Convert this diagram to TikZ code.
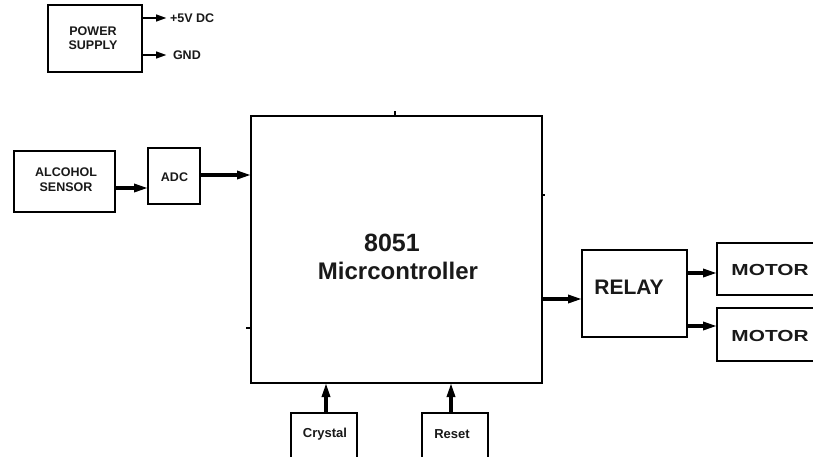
\documentclass[tikz,border=0pt]{standalone}
\usepackage{fontspec}
\setmainfont{Liberation Sans}
\usepackage{graphicx}
\usetikzlibrary{arrows.meta,calc}
\begin{document}
\begin{tikzpicture}[x=1pt,y=-1pt,
  blk/.style={draw=black,line width=1.6pt,inner sep=0pt,outer sep=0pt,fill=white},
  txt/.style={inner sep=0pt,outer sep=0pt,text=black!90,align=center},
  arr/.style={line width=3.2pt,-{Triangle[length=14pt,width=8pt]}},
  arrs/.style={line width=2.6pt,-{Triangle[length=11pt,width=6.5pt]}},
  tick/.style={line width=1.4pt}
]
\useasboundingbox (0,0) rectangle (813,456);
\clip (0,0) rectangle (813,456);
\fill[white] (0,0) rectangle (813,456);

% power supply
\node[blk,minimum width=94pt,minimum height=67pt] (ps) at (95,38.5) {};
\node[txt,font=\bfseries\fontsize{12.5}{14}\selectfont] (pst) at (93,38.5) {POWER\\SUPPLY};
\coordinate (v5) at (167,18);
\coordinate (gnd) at (167,55);
\draw[arrs] ([yshift=20.5pt]ps.east) -- (v5);
\draw[arrs] ([yshift=-16.5pt]ps.east) -- (gnd);
\node[txt,anchor=west,font=\bfseries\fontsize{12.5}{14}\selectfont] (v5t) at (170,18) {+5V DC};
\node[txt,anchor=west,font=\bfseries\fontsize{12.5}{14}\selectfont] (gndt) at (173,55.5) {GND};

% sensor and ADC
\node[blk,minimum width=101pt,minimum height=61pt] (sen) at (64.5,181.5) {};
\node[txt,font=\bfseries\fontsize{12.5}{15}\selectfont] (sent) at (66,180) {ALCOHOL\\SENSOR};
\node[blk,minimum width=52pt,minimum height=56pt] (adc) at (174,176) {};
\node[txt,font=\bfseries\fontsize{12.5}{14}\selectfont] (adct) at (174.5,177) {ADC};

% microcontroller
\node[blk,minimum width=291pt,minimum height=267pt] (mcu) at (396.5,249.5) {};
\node[txt,font=\bfseries\fontsize{25}{26}\selectfont] (mcut1) at (392,243) {8051};
\node[txt,font=\bfseries\fontsize{24}{26}\selectfont] (mcut2) at (398,271) {Micrcontroller};
\draw[tick] (395,111) -- (395,116);
\draw[tick] (541,195) -- (545,195);
\draw[tick] (246,328) -- (251,328);

% relay and motors
\node[blk,minimum width=105pt,minimum height=87pt] (rel) at (634.5,293.5) {};
\node[txt,font=\bfseries\fontsize{21}{24}\selectfont] (relt) at (629,287) {RELAY};
\node[blk,minimum width=106pt,minimum height=52pt] (m1) at (770,269) {};
\node[txt,font=\bfseries\fontsize{16}{18}\selectfont] (m1t) at (770,270) {\scalebox{1.3}[1]{MOTOR}};
\node[blk,minimum width=106pt,minimum height=53pt] (m2) at (770,334.5) {};
\node[txt,font=\bfseries\fontsize{16}{18}\selectfont] (m2t) at (770,336) {\scalebox{1.3}[1]{MOTOR}};

% crystal and reset
\node[blk,minimum width=66pt,minimum height=46pt] (cry) at (324,436) {};
\node[txt,font=\bfseries\fontsize{13}{15}\selectfont] (cryt) at (325,434) {Crystal};
\node[blk,minimum width=66pt,minimum height=46pt] (rst) at (455,436) {};
\node[txt,font=\bfseries\fontsize{13}{15}\selectfont] (rstt) at (452,434) {Reset};

% connectors
\draw[arr] ([yshift=-6.5pt]sen.east) -- ([yshift=-6.5pt]sen.east -| adc.west);
\draw[arr] ([yshift=1pt]adc.east) -- ([yshift=1pt]adc.east -| mcu.west);
\draw[arr] ([yshift=-49.5pt]mcu.east) -- ([yshift=-49.5pt]mcu.east -| rel.west);
\draw[arr] ([yshift=20.5pt]rel.east) -- ([yshift=20.5pt]rel.east -| m1.west);
\draw[arr] ([yshift=-32.5pt]rel.east) -- ([yshift=-32.5pt]rel.east -| m2.west);
\draw[arr] ([xshift=2pt]cry.north) -- ([xshift=2pt]cry.north |- mcu.south);
\draw[arr] ([xshift=-4pt]rst.north) -- ([xshift=-4pt]rst.north |- mcu.south);
\end{tikzpicture}
\end{document}
